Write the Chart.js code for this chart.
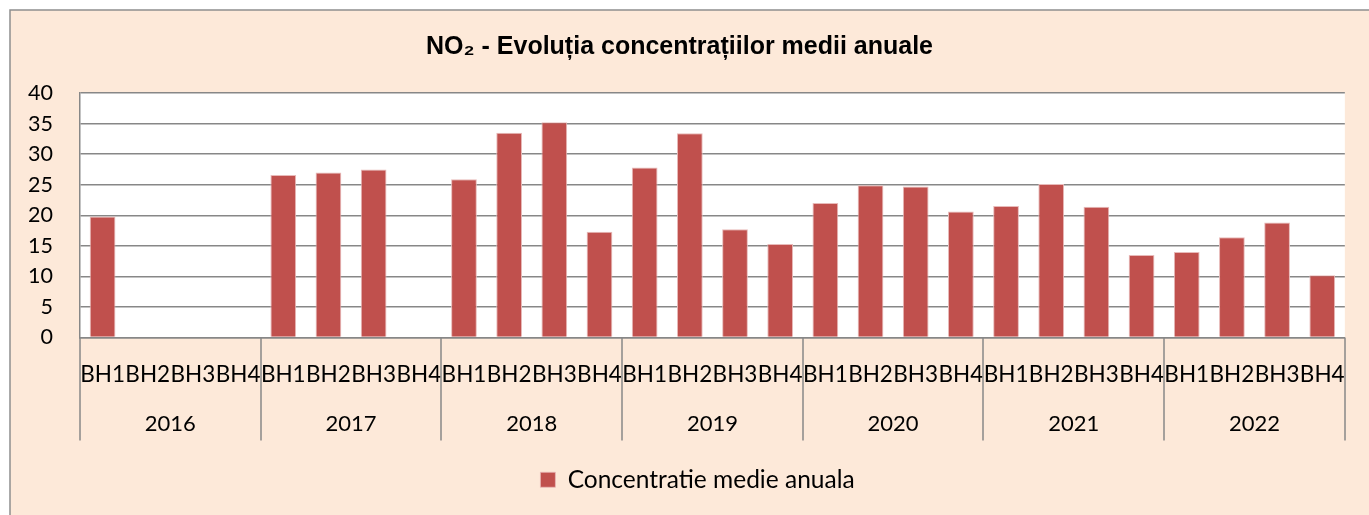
<!DOCTYPE html>
<html>
<head>
<meta charset="utf-8">
<script src="https://cdn.jsdelivr.net/npm/chart.js@4.4.1/dist/chart.umd.min.js"></script>
<style>
    html, body { margin: 0; padding: 0; background: #fff; }
</style>
</head>
<body>
<canvas id="myChartNO2" width="1369" height="515"></canvas>
<script>
// chart data
var years = ['2016', '2017', '2018', '2019', '2020', '2021', '2022'];
var stations = ['BH1', 'BH2', 'BH3', 'BH4'];
var no2_2016 = [19.8, null, null, null];
var no2_2017 = [26.6, 27.0, 27.5, null];
var no2_2018 = [25.9, 33.5, 35.2, 17.3];
var no2_2019 = [27.8, 33.4, 17.7, 15.3];
var no2_2020 = [22.0, 24.9, 24.7, 20.6];
var no2_2021 = [21.5, 25.1, 21.4, 13.5];
var no2_2022 = [14.0, 16.4, 18.8, 10.2];
var yTicks = [0, 5, 10, 15, 20, 25, 30, 35, 40];

var seriesLabel = 'Concentratie medie anuala';
var chartTitle = 'NO\u2082 - Evolu\u021Bia concentra\u021Biilor medii anuale';

window.onload = function () {
    var Labels = [];
    var Values = [];
    var byYear = [no2_2016, no2_2017, no2_2018, no2_2019, no2_2020, no2_2021, no2_2022];
    for (var i in byYear) {
        for (var j in stations) {
            Labels.push(stations[j]);
            Values.push(byYear[i][j]);
        }
    }

    var gridGray = '#878787';

    // page background, peach frame and white plot area
    var frame = {
        id: 'frame',
        beforeDraw: function (chart) {
            var ctx = chart.ctx;
            var a = chart.chartArea;
            ctx.save();
            ctx.fillStyle = '#ffffff';
            ctx.fillRect(0, 0, chart.width, chart.height);
            ctx.fillStyle = '#FDE9D9';
            ctx.fillRect(10, 10, chart.width, chart.height);
            ctx.strokeStyle = '#8f8f8f';
            ctx.lineWidth = 1.5;
            ctx.beginPath();
            ctx.moveTo(10, chart.height);
            ctx.lineTo(10, 10);
            ctx.lineTo(chart.width, 10);
            ctx.stroke();
            ctx.fillStyle = '#ffffff';
            ctx.fillRect(a.left, a.top, a.right - a.left, a.bottom - a.top);
            ctx.restore();
        },
        // legend sits a bit right of centre in the original
        afterLayout: function (chart) {
            chart.legend.left += 18;
            chart.legend.right += 18;
        },
        // group separators of the two-level category axis
        afterDraw: function (chart) {
            var ctx = chart.ctx;
            var a = chart.chartArea;
            var x2 = chart.scales.x2;
            var step = (a.right - a.left) / years.length;
            ctx.save();
            ctx.strokeStyle = gridGray;
            ctx.lineWidth = 1.5;
            for (var k = 0; k <= years.length; k++) {
                var px = Math.round(a.left + k * step);
                ctx.beginPath();
                ctx.moveTo(px, a.bottom);
                ctx.lineTo(px, x2.top + 41);
                ctx.stroke();
            }
            ctx.restore();
        }
    };

    var chartdata = {
        labels: Labels,
        datasets: [
            {
                label: seriesLabel,
                backgroundColor: '#C0504D',
                borderColor: 'rgba(232,186,185,1)',
                borderWidth: { top: 1, left: 1, right: 1, bottom: 0 },
                barPercentage: 0.57,
                categoryPercentage: 1.0,
                data: Values
            }
        ]
    };

    var ctx = document.getElementById('myChartNO2');
    var barGraph = new Chart(ctx, {
        type: 'bar',
        data: chartdata,
        plugins: [frame],
        options: {
            responsive: false,
            animation: false,
            devicePixelRatio: 1,
            layout: { padding: { left: 10, right: 20, top: 10, bottom: 13 } },
            plugins: {
                tooltip: { enabled: false },
                title: {
                    display: true,
                    text: chartTitle,
                    color: '#000',
                    font: { family: 'Liberation Sans', size: 25, weight: 'bold', lineHeight: 1.2 },
                    padding: { top: 22, bottom: 31 }
                },
                legend: {
                    position: 'bottom',
                    labels: {
                        boxWidth: 15,
                        boxHeight: 15,
                        padding: 23,
                        color: '#000',
                        font: { family: 'Lato', size: 24.5 }
                    }
                }
            },
            scales: {
                y: {
                    min: 0,
                    max: 40,
                    afterBuildTicks: function (scale) {
                        scale.ticks = yTicks.map(function (v) { return { value: v }; });
                    },
                    afterFit: function (scale) { scale.width = 70; },
                    grid: { color: gridGray, lineWidth: 1.5, drawTicks: false },
                    border: { color: gridGray, width: 1.5 },
                    ticks: { color: '#000', font: { family: 'Lato', size: 21.5 }, padding: 27 }
                },
                x: {
                    afterFit: function (scale) { scale.height = 62; },
                    grid: { display: false, drawTicks: false },
                    border: { color: gridGray, width: 1.5 },
                    ticks: { color: '#000', font: { family: 'Lato', size: 22.5 }, padding: 24, maxRotation: 0, autoSkip: false }
                },
                x2: {
                    type: 'category',
                    position: 'bottom',
                    labels: years,
                    offset: true,
                    weight: 1,
                    afterFit: function (scale) { scale.height = 45; },
                    grid: { display: false, drawTicks: false },
                    border: { display: false },
                    ticks: { color: '#000', font: { family: 'Lato', size: 22 }, padding: 11, maxRotation: 0, autoSkip: false }
                }
            }
        }
    });
};
</script>
</body>
</html>
